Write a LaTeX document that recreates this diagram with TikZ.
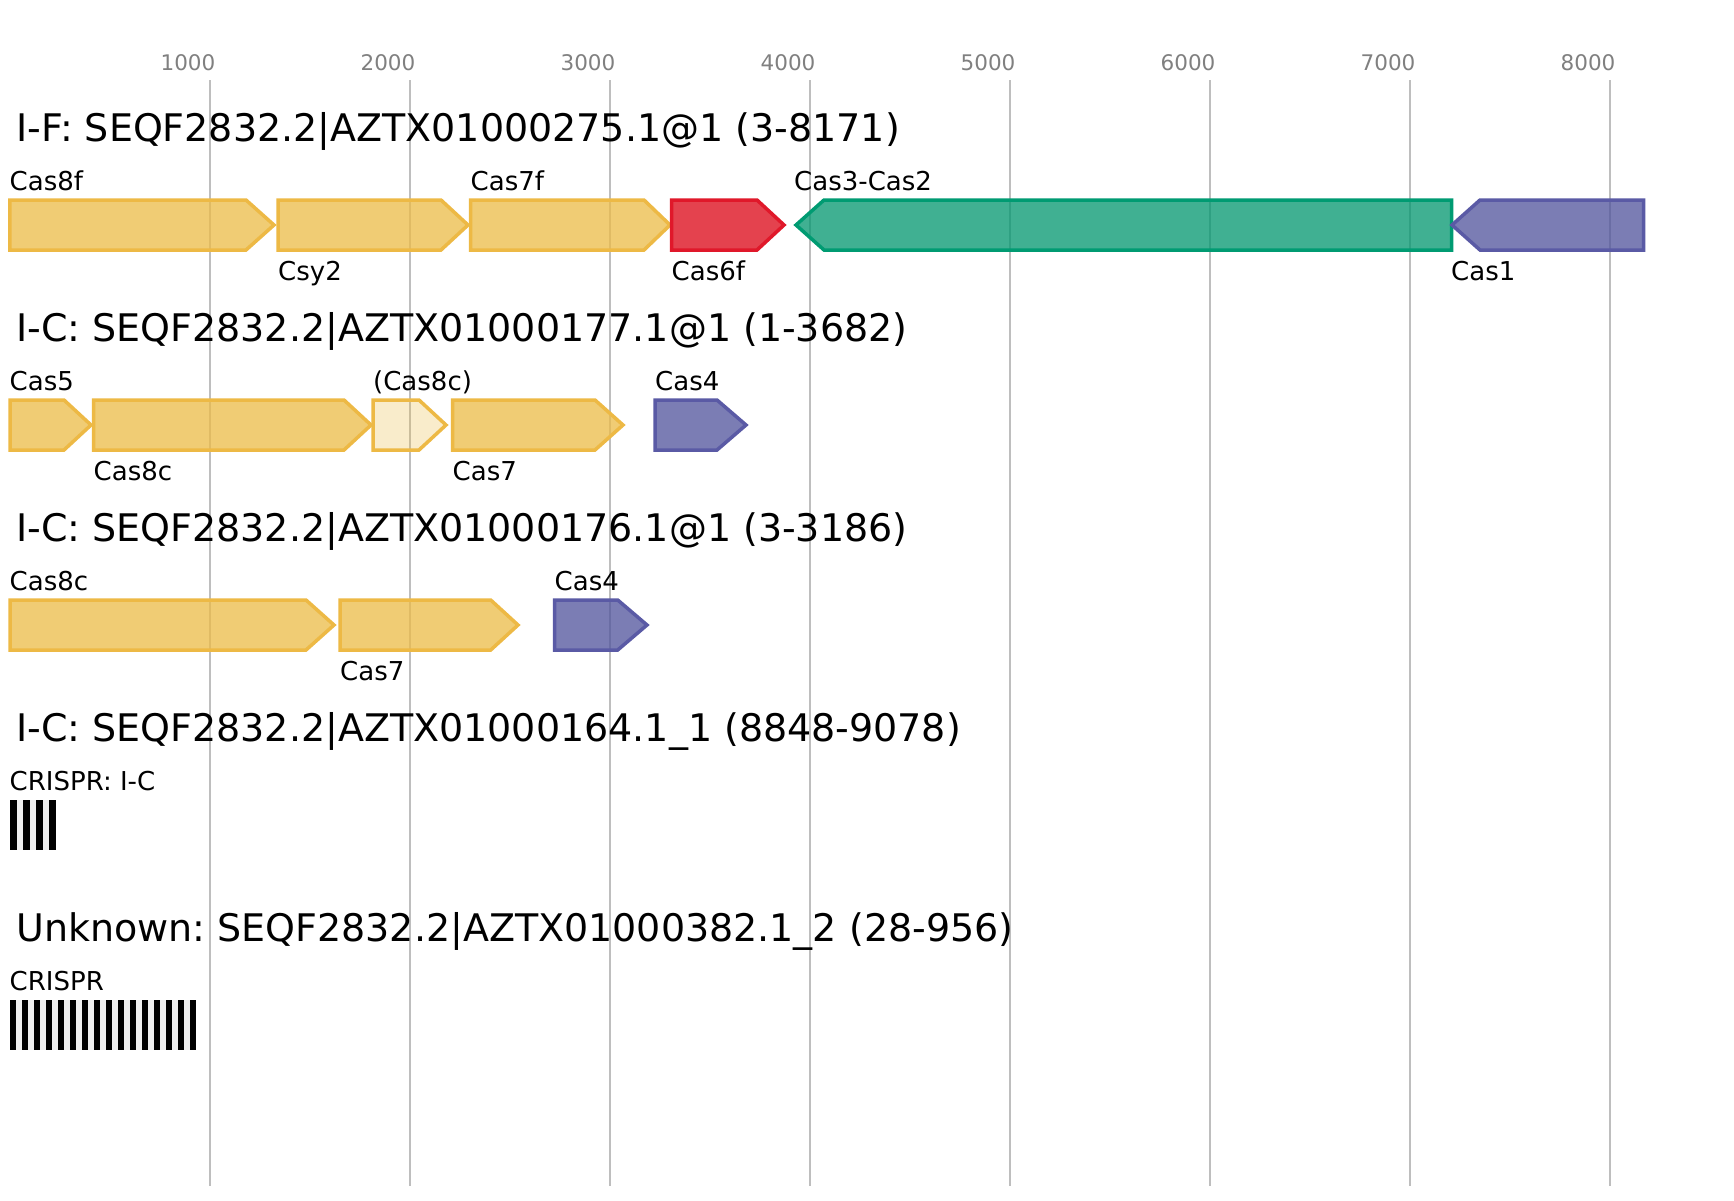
\documentclass[tikz,border=0pt]{standalone}
\usepackage{fontspec}
\setmainfont{DejaVu Sans}
\frenchspacing
\definecolor{gridc}{HTML}{BEBEBE}
\definecolor{tickc}{HTML}{808080}
\definecolor{yelS}{HTML}{EDB945}
\definecolor{yelF}{HTML}{ECBB46}
\definecolor{redS}{HTML}{E0182A}
\definecolor{redF}{HTML}{DC0413}
\definecolor{grnS}{HTML}{009B72}
\definecolor{grnF}{HTML}{00966E}
\definecolor{purS}{HTML}{5A5AA5}
\definecolor{purF}{HTML}{4F529C}
\definecolor{gapc}{HTML}{EFEFEF}
\tikzset{
  gridln/.style={draw=gridc, line width=1.8pt},
  ticklab/.style={text=tickc, font=\fontsize{21.5}{25}\selectfont, inner sep=0pt, anchor=base},
  ttl/.style={font=\fontsize{38}{45}\selectfont, inner sep=0pt, anchor=base west},
  lab/.style={font=\fontsize{26}{30}\selectfont, inner sep=0pt, anchor=base west},
  gene/.style={line width=3.5pt, line join=miter, fill opacity=0.75},
  yel/.style={gene, draw=yelS, fill=yelF},
  yellight/.style={gene, draw=yelS, fill=yelF, fill opacity=0.28},
  red/.style={gene, draw=redS, fill=redF},
  grn/.style={gene, draw=grnS, fill=grnF},
  pur/.style={gene, draw=purS, fill=purF},
}
\newcommand\fgene[5]{\draw[#5] (#1,#4) -- (#2,#4) -- (#3,{#4+25}) -- (#2,{#4+50}) -- (#1,{#4+50}) -- cycle;}
\newcommand\rgene[5]{\draw[#5] (#1,{#4+25}) -- (#2,#4) -- (#3,#4) -- (#3,{#4+50}) -- (#2,{#4+50}) -- cycle;}
\begin{document}
\begin{tikzpicture}[x=1pt,y=-1pt]
\useasboundingbox[fill=white] (0,0) rectangle (1734,1200);
% grid and ticks
\foreach \i in {1,...,8}{
  \draw[gridln] ({10+200*\i},80) -- ({10+200*\i},1186);
  \node[ticklab] (t\i) at ({10+200*\i-22},70) {\i000};
}
% titles
\node[ttl] (h1) at (16,141) {I-F: SEQF2832.2|AZTX01000275.1@1 (3-8171)};
\node[ttl] (h2) at (16,341) {I-C: SEQF2832.2|AZTX01000177.1@1 (1-3682)};
\node[ttl] (h3) at (16,541) {I-C: SEQF2832.2|AZTX01000176.1@1 (3-3186)};
\node[ttl] (h4) at (16,741) {I-C: SEQF2832.2|AZTX01000164.1\_1 (8848-9078)};
\node[ttl] (h5) at (16,941) {Unknown: SEQF2832.2|AZTX01000382.1\_2 (28-956)};
% row 1
\fgene{9.8}{246}{274}{200}{yel}
\fgene{278}{441}{468}{200}{yel}
\fgene{470.5}{644}{670}{200}{yel}
\fgene{671.5}{757}{784}{200}{red}
\rgene{796}{824}{1451.5}{200}{grn}
\rgene{1452}{1480}{1643.5}{200}{pur}
\node[lab] (g1) at (9.5,190) {Cas8f};
\node[lab] (g2) at (278,280) {Csy2};
\node[lab] (g3) at (470.5,190) {Cas7f};
\node[lab] (g4) at (671.5,280) {Cas6f};
\node[lab] (g5) at (794,190) {Cas3-Cas2};
\node[lab] (g6) at (1451,280) {Cas1};
% row 2
\fgene{10}{64}{91}{400}{yel}
\fgene{93.5}{344}{371}{400}{yel}
\fgene{373}{419}{446}{400}{yellight}
\fgene{452.5}{595}{623}{400}{yel}
\fgene{655}{717}{746}{400}{pur}
\node[lab] (r1) at (9.5,390) {Cas5};
\node[lab] (r2) at (93.5,480) {Cas8c};
\node[lab] (r3) at (373,390) {(Cas8c)};
\node[lab] (r4) at (452.5,480) {Cas7};
\node[lab] (r5) at (655,390) {Cas4};
% row 3
\fgene{10}{306}{334}{600}{yel}
\fgene{340}{490.7}{518}{600}{yel}
\fgene{554.5}{617.7}{647}{600}{pur}
\node[lab] (s1) at (9.5,590) {Cas8c};
\node[lab] (s2) at (340,680) {Cas7};
\node[lab] (s3) at (554.5,590) {Cas4};
% CRISPR arrays
\node[lab] (c1) at (9.5,790) {CRISPR: I-C};
\fill[gapc] (10,800) rectangle (56,850);
\foreach \j in {0,...,3}{
  \fill[black] ({10+2*\j*46/7},800) rectangle ({10+(2*\j+1)*46/7},850);
}
\node[lab] (c2) at (9.5,990) {CRISPR};
\fill[gapc] (10,1000) rectangle (196,1050);
\foreach \j in {0,...,15}{
  \fill[black] ({10+2*\j*6},1000) rectangle ({10+(2*\j+1)*6},1050);
}
\end{tikzpicture}
\end{document}
